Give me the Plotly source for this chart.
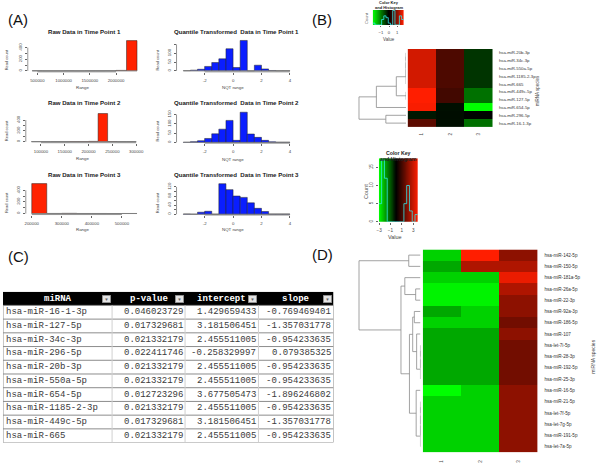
import numpy as np
import plotly.graph_objects as go

W, H = 600, 466
SANS = "Liberation Sans, Arial, Helvetica, sans-serif"
MONO = "Liberation Mono, Courier New, monospace"

# ---------------- data: panel A (histograms) ----------------
raw_titles = ["Raw Data in Time Point 1", "Raw Data in Time Point 2", "Raw Data in Time Point 3"]
nqt_titles = ["Quantile Transformed  Data in Time Point 1",
              "Quantile Transformed  Data in Time Point 2",
              "Quantile Transformed  Data in Time Point 3"]
raw1_edges = [400000, 600000, 800000, 1000000, 1200000, 1400000, 1600000, 1800000, 2000000, 2200000, 2400000]
raw1_counts = [1, 0, 0, 1, 0, 1, 1, 2, 8, 520]
raw2_edges = [80000, 100000, 120000, 140000, 160000, 180000, 200000, 220000, 240000, 260000, 280000, 300000]
raw2_counts = [1, 0, 1, 1, 2, 2, 6, 520, 3, 1, 1]
raw3_edges = [200000, 250000, 300000, 350000, 400000, 450000, 500000, 550000]
raw3_counts = [515, 2, 4, 1, 1, 0, 1]
nqt_edges = [-3.5, -3.0, -2.5, -2.0, -1.5, -1.0, -0.5, 0.0, 0.5, 1.0, 1.5, 2.0, 2.5, 3.0, 3.5, 4.0]
nqt1_counts = [1, 4, 9, 25, 47, 68, 125, 19, 172, 0, 32, 11, 2, 1, 1]
nqt2_counts = [1, 4, 9, 21, 46, 71, 118, 11, 162, 45, 27, 11, 3, 1, 1]
nqt3_counts = [1, 0, 9, 13, 0, 134, 108, 80, 74, 50, 26, 12, 1, 1, 1]
raw1_xticks = [500000, 1000000, 1500000, 2000000]
raw2_xticks = [100000, 150000, 200000, 250000, 300000]
raw3_xticks = [200000, 300000, 400000, 500000]
raw_yticks = [0, 100, 200, 300, 400]
raw_ylabels = ["0", "", "200", "", "400"]
nqt_xticks = [-2, 0, 2, 4]
nqt1_yticks = [0, 50, 100, 150]
nqt1_ylabels = ["0", "50", "100", ""]
nqt2_yticks = [0, 50, 100, 150]
nqt2_ylabels = ["0", "50", "100", "150"]
nqt3_yticks = [0, 20, 40, 60, 80, 100, 120]
nqt3_ylabels = ["0", "", "40", "", "80", "", "120"]

# ---------------- data: panel B heatmap ----------------
b_rows = ["hsa-miR-20b-3p", "hsa-miR-34c-3p", "hsa-miR-550a-5p", "hsa-miR-1185-2-3p", "hsa-miR-665",
          "hsa-miR-449c-5p", "hsa-miR-127-5p", "hsa-miR-654-5p", "hsa-miR-296-5p", "hsa-miR-16-1-3p"]
b_cols = ["1", "2", "3"]
b_t1 = [1.50, 1.50, 1.50, 1.50, 1.50, 1.82, 1.82, 1.78, -0.18, 0.66]
b_t2 = [0.55, 0.55, 0.55, 0.55, 0.55, 0.47, 0.47, -0.12, -0.10, -0.11]
b_t3 = [-0.41, -0.41, -0.41, -0.41, -0.41, -0.89, -0.89, -2.01, -0.02, -0.88]
# row dendrogram (merge a, merge b, height); ids >= n are earlier merges
b_merges = [(0, 1, 0.0), (10, 2, 0.0), (11, 3, 0.0), (12, 4, 0.0), (5, 6, 0.0),
            (13, 14, 0.58), (15, 7, 1.76), (8, 9, 1.20), (16, 17, 2.79)]
b_key_ticks = [-1, 0, 1]

# ---------------- data: panel D heatmap ----------------
d_rows = ["hsa-miR-142-5p", "hsa-miR-150-5p", "hsa-miR-181a-5p", "hsa-miR-26a-5p", "hsa-miR-22-3p",
          "hsa-miR-92a-3p", "hsa-miR-186-5p", "hsa-miR-107", "hsa-let-7i-5p", "hsa-miR-28-3p",
          "hsa-miR-192-5p", "hsa-miR-25-3p", "hsa-miR-16-5p", "hsa-miR-21-5p", "hsa-let-7f-5p",
          "hsa-let-7g-5p", "hsa-miR-191-5p", "hsa-let-7a-5p"]
d_cols = ["1", "2", "3"]
d_t1 = [-2.5, -2.0, -2.5, -2.9, -2.9, -2.0, -2.5, -2.0, -2.0, -2.0, -2.0, -2.0, -3.04, -2.5, -2.5, -2.5, -2.5, -2.5]
d_t2 = [3.79, 2.6, -2.5, -2.9, -2.9, -2.5, -2.5, -2.0, -2.0, -2.0, -2.0, -2.0, -2.5, -2.5, -2.5, -2.5, -2.5, -2.5]
d_t3 = [2.1, 2.6, 3.5, 2.6, 2.1, 2.1, 1.7, 2.1, 1.7, 1.7, 1.7, 1.7, 2.1, 2.1, 2.1, 2.1, 2.1, 2.1]
d_merges = [(0, 1, 1.22), (3, 4, 0.5), (2, 19, 1.63), (8, 9, 0.0), (21, 10, 0.0), (22, 11, 0.0),
            (7, 23, 0.4), (5, 6, 0.64), (25, 24, 0.81), (13, 14, 0.0), (27, 15, 0.0), (28, 16, 0.0),
            (29, 17, 0.0), (12, 30, 0.45), (26, 31, 1.15), (20, 32, 2.03), (18, 33, 6.4)]
d_key_ticks = [-3, -1, 1, 3]
d_key_yticks = [0, 5, 10, 15]

# ---------------- data: panel C table ----------------
tbl_header = ["miRNA", "p-value", "intercept", "slope"]
tbl_mirna = ["hsa-miR-16-1-3p", "hsa-miR-127-5p", "hsa-miR-34c-3p", "hsa-miR-296-5p", "hsa-miR-20b-3p",
             "hsa-miR-550a-5p", "hsa-miR-654-5p", "hsa-miR-1185-2-3p", "hsa-miR-449c-5p", "hsa-miR-665"]
tbl_pvalue = [0.046023729, 0.017329681, 0.021332179, 0.022411746, 0.021332179,
              0.021332179, 0.012723296, 0.021332179, 0.017329681, 0.021332179]
tbl_intercept = [1.429659433, 3.181506451, 2.455511005, -0.258329997, 2.455511005,
                 2.455511005, 3.677505473, 2.455511005, 3.181506451, 2.455511005]
tbl_slope = [-0.769469401, -1.357031778, -0.954233635, 0.079385325, -0.954233635,
             -0.954233635, -1.896246802, -0.954233635, -1.357031778, -0.954233635]

# ---------------- helpers ----------------
fig = go.Figure()
layout = dict(width=W, height=H, margin=dict(l=0, r=0, t=0, b=0), paper_bgcolor="white",
              plot_bgcolor="rgba(0,0,0,0)", showlegend=False, barmode="overlay")
annotations = []
shapes = []


def dom_x(a, b):
    return [a / W, b / W]


def dom_y(top, bot):
    return [1 - bot / H, 1 - top / H]


def xa(i):
    return "xaxis" if i == 1 else f"xaxis{i}"


def ya(i):
    return "yaxis" if i == 1 else f"yaxis{i}"


def xr(i):
    return "x" if i == 1 else f"x{i}"


def yr(i):
    return "y" if i == 1 else f"y{i}"


def ann(text, x, y, size, color="#222", bold=False, angle=0, xanchor="center", family=SANS):
    if bold:
        text = f"<b>{text}</b>"
    annotations.append(dict(text=text, x=x / W, y=1 - y / H, xref="paper", yref="paper",
                            showarrow=False, xanchor=xanchor, yanchor="middle", textangle=angle,
                            font=dict(size=size, color=color, family=family)))


TICKFONT = dict(size=4.3, color="#444", family=SANS)
AX = dict(showgrid=False, zeroline=False, showline=False,
          ticks="outside", ticklen=2, tickwidth=0.6, tickcolor="#666", tickfont=TICKFONT,
          fixedrange=True)
AXLINE = dict(color="#666", width=0.7)

RED = "#ff2200"
BLUE = "#0a1eff"

# ---------------- panel A ----------------
panelA = [
    (raw1_edges, raw1_counts, RED, raw_titles[0], "Range", (26, 140), (38, 72),
     (500000, 35.7, 79.3 / 1.5e6), (71, 23.3 / 400), raw1_xticks, raw_yticks, raw_ylabels),
    (nqt_edges, nqt1_counts, BLUE, nqt_titles[0], "NQT range", (176, 292), (38, 72),
     (0, 233.0, 14.33), (71, 17.7 / 100), nqt_xticks, nqt1_yticks, nqt1_ylabels),
    (raw2_edges, raw2_counts, RED, raw_titles[1], "Range", (24, 140), (110, 143),
     (100000, 39.3, 24 / 50000), (142, 21.7 / 400), raw2_xticks, raw_yticks, raw_ylabels),
    (nqt_edges, nqt2_counts, BLUE, nqt_titles[1], "NQT range", (176, 292), (110, 143.5),
     (0, 233.0, 14.33), (142.7, 28 / 150), nqt_xticks, nqt2_yticks, nqt2_ylabels),
    (raw3_edges, raw3_counts, RED, raw_titles[2], "Range", (24, 140), (182, 215),
     (200000, 30.0, 30.3 / 100000), (214, 23.3 / 400), raw3_xticks, raw_yticks, raw_ylabels),
    (nqt_edges, nqt3_counts, BLUE, nqt_titles[2], "NQT range", (176, 292), (182, 215.5),
     (0, 233.0, 14.33), (214.7, 27.4 / 120), nqt_xticks, nqt3_yticks, nqt3_ylabels),
]
title_y = [31.5, 31.5, 103, 103, 174.5, 174.5]
xlab_y = [87.7, 87.7, 158.7, 159.5, 230, 230]
ylab_y = [60, 60, 131, 131, 203, 203]

for k, (edges, counts, color, title, xlab, xpx, ypx, xm, ym, xt, yt, yl) in enumerate(panelA):
    i = k + 1
    e = np.array(edges, dtype=float)
    centers = (e[:-1] + e[1:]) / 2
    widths = e[1:] - e[:-1]
    fig.add_trace(go.Scatter(x=[e[0], e[-1]], y=[0, 0], mode="lines",
                             line=dict(color="#8a8a8a", width=0.8), hoverinfo="skip",
                             xaxis=xr(i), yaxis=yr(i)))
    fig.add_trace(go.Bar(x=centers, y=counts, width=widths,
                         marker=dict(color=color, line=dict(color="#222", width=0.5)),
                         xaxis=xr(i), yaxis=yr(i)))
    v0, p0, ppu = xm
    xrange_ = [v0 + (xpx[0] - p0) / ppu, v0 + (xpx[1] - p0) / ppu]
    pz, yppu = ym
    yrange_ = [(pz - ypx[1]) / yppu, (pz - ypx[0]) / yppu]
    layout[xa(i)] = dict(AX, domain=dom_x(*xpx), range=xrange_, anchor=yr(i),
                         tickvals=xt, ticktext=[str(v) for v in xt], ticklabelstandoff=2)
    layout[ya(i)] = dict(AX, domain=dom_y(*ypx), range=yrange_, anchor=xr(i),
                         tickvals=yt, ticktext=yl, tickangle=-90, ticklabelstandoff=1)
    # R-style axis lines running from the first to the last tick
    shapes.append(dict(type="line", xref=xr(i), yref=f"{yr(i)} domain", x0=xt[0], x1=xt[-1],
                       y0=0, y1=0, line=AXLINE))
    shapes.append(dict(type="line", xref=f"{xr(i)} domain", yref=yr(i), x0=0, x1=0,
                       y0=yt[0], y1=yt[-1], line=AXLINE))
    cx = 83 if k % 2 == 0 else 236
    ann(title, cx, title_y[k], 6.1, color="#1a1a1a", bold=True)
    ann(xlab, 81 if k % 2 == 0 else 233, xlab_y[k], 4.4, color="#444")
    ann("Read count", 4.5 if k % 2 == 0 else 157, ylab_y[k], 4.0, color="#444", angle=-90)


# ---------------- heatmap / dendrogram helpers ----------------
def rg_scale(zmin, zmax):
    m = -zmin / (zmax - zmin)
    return [[0, "#00ff00"], [m, "#000000"], [1, "#ff1e00"]]


def dendro_xy(merges, n):
    pos = {j: float(j) for j in range(n)}
    hgt = {j: 0.0 for j in range(n)}
    xs, ys = [], []
    for k, (a, b, h) in enumerate(merges):
        node = n + k
        xs += [hgt[a], h, h, hgt[b], None]
        ys += [pos[a], pos[a], pos[b], pos[b], None]
        pos[node] = (pos[a] + pos[b]) / 2
        hgt[node] = h
    return xs, ys


def heat_panel(ih, idn, ik, rows, cols, cols_vals, merges, hm_x, hm_y, leaf_px, root_px,
               row_font, col_standoff, row_standoff):
    n = len(rows)
    z = [[cv[r] for cv in cols_vals] for r in range(n)]
    allv = [v for cv in cols_vals for v in cv]
    zmin, zmax = min(allv), max(allv)
    cs = rg_scale(zmin, zmax)
    fig.add_trace(go.Heatmap(z=z, x=list(range(len(cols))), y=list(range(n)), colorscale=cs,
                             zmin=zmin, zmax=zmax, showscale=False, hoverinfo="skip",
                             xaxis=xr(ih), yaxis=yr(ih)))
    layout[xa(ih)] = dict(domain=dom_x(*hm_x), range=[-0.5, len(cols) - 0.5], anchor=yr(ih),
                          showgrid=False, zeroline=False, showline=False, ticks="",
                          tickvals=list(range(len(cols))), ticktext=cols, tickangle=-90,
                          tickfont=dict(size=4.5, color="#444", family=SANS),
                          ticklabelstandoff=col_standoff, fixedrange=True)
    layout[ya(ih)] = dict(domain=dom_y(*hm_y), range=[n - 0.5, -0.5], anchor=xr(ih), side="right",
                          showgrid=False, zeroline=False, showline=False, ticks="",
                          tickvals=list(range(n)), ticktext=rows,
                          tickfont=dict(size=row_font, color="#333", family=SANS),
                          ticklabelstandoff=row_standoff, fixedrange=True)
    # dendrogram
    xs, ys = dendro_xy(merges, n)
    hmax = max(m[2] for m in merges)
    scale = (leaf_px - root_px) / hmax
    top = hmax * 1.02
    fig.add_trace(go.Scatter(x=xs, y=ys, mode="lines", line=dict(color="#8c8c8c", width=0.8),
                             hoverinfo="skip", xaxis=xr(idn), yaxis=yr(idn)))
    layout[xa(idn)] = dict(domain=dom_x(leaf_px - top * scale, leaf_px), range=[top, 0],
                           visible=False, anchor=yr(idn), fixedrange=True)
    layout[ya(idn)] = dict(domain=dom_y(*hm_y), range=[n - 0.5, -0.5], visible=False,
                           anchor=xr(idn), fixedrange=True)
    # colour key with histogram
    breaks = np.linspace(zmin, zmax, 15)
    counts, _ = np.histogram(allv, bins=breaks)
    ytop = counts.max() * 1.03
    gx = np.linspace(zmin, zmax, 121)
    gc = (gx[:-1] + gx[1:]) / 2
    fig.add_trace(go.Heatmap(z=[gc.tolist()], x=gx.tolist(), y=[0, ytop], colorscale=cs,
                             zmin=zmin, zmax=zmax, showscale=False, hoverinfo="skip",
                             xaxis=xr(ik), yaxis=yr(ik)))
    fig.add_trace(go.Scatter(x=breaks.tolist(), y=counts.tolist() + [int(counts[-1])], mode="lines",
                             line=dict(color="#30e8e8", width=0.8, shape="hv"), hoverinfo="skip",
                             xaxis=xr(ik), yaxis=yr(ik)))
    return zmin, zmax, ytop


# ---------------- panel B ----------------
bzmin, bzmax, bytop = heat_panel(7, 8, 9, b_rows, b_cols, [b_t1, b_t2, b_t3], b_merges,
                                 hm_x=(409, 495), hm_y=(49, 127.3), leaf_px=407.5, root_px=360,
                                 row_font=4.3, col_standoff=4, row_standoff=5)
layout[xa(9)] = dict(domain=dom_x(390.3 + bzmin * 8.2, 390.3 + bzmax * 8.2), range=[bzmin, bzmax],
                     anchor=yr(9), showgrid=False, zeroline=False, showline=False, ticks="outside",
                     ticklen=1.5, tickwidth=0.5, tickcolor="#666", tickvals=b_key_ticks,
                     tickfont=dict(size=4.2, color="#444", family=SANS), ticklabelstandoff=2,
                     fixedrange=True)
layout[ya(9)] = dict(domain=dom_y(10, 25), range=[0, bytop], anchor=xr(9), showgrid=False,
                     zeroline=False, showline=False, showticklabels=False, ticks="", fixedrange=True)
ann("Color Key", 390, 3, 4, color="#222", bold=True)
ann("and Histogram", 390, 7.8, 4, color="#222", bold=True)
ann("Value", 390, 39.5, 4.5, color="#444")
ann("Count", 368, 18, 4, color="#555", angle=-90)
ann("miRNA species", 540, 91, 4.5, color="#444", angle=-90)

# ---------------- panel D ----------------
dzmin, dzmax, dytop = heat_panel(10, 11, 12, d_rows, d_cols, [d_t1, d_t2, d_t3], d_merges,
                                 hm_x=(424.3, 540), hm_y=(250, 453.3), leaf_px=422, root_px=360,
                                 row_font=4.6, col_standoff=6, row_standoff=6)
layout[xa(12)] = dict(domain=dom_x(397.5 + dzmin * 5.75, 397.5 + dzmax * 5.75), range=[dzmin, dzmax],
                      anchor=yr(12), showgrid=False, zeroline=False, showline=False, ticks="outside",
                      ticklen=2, tickwidth=0.5, tickcolor="#666", tickvals=d_key_ticks,
                      tickfont=dict(size=4.6, color="#444", family=SANS), ticklabelstandoff=2,
                      fixedrange=True)
layout[ya(12)] = dict(domain=dom_y(222.3 - dytop * 3.64, 222.3), range=[0, dytop], anchor=xr(12),
                      showgrid=False, zeroline=False, showline=False, ticks="outside", ticklen=2,
                      tickwidth=0.5, tickcolor="#666", tickvals=d_key_yticks, tickangle=-90,
                      tickfont=dict(size=4.6, color="#444", family=SANS), ticklabelstandoff=1,
                      fixedrange=True)
ann("Color Key", 400, 153.3, 5.2, color="#222", bold=True)
ann("and Histogram", 400, 159.3, 5.2, color="#222", bold=True)
ann("Value", 396, 237.3, 5.5, color="#444")
ann("Count", 367.7, 191.7, 5.5, color="#555", angle=-90)
ann("miRNA species", 596.5, 358, 5, color="#444", angle=-90)

# ---------------- panel C (table drawn on its own axes) ----------------
tbl_colweights = [110, 73.6, 74, 75.7]
tbl_align = ["left", "right", "right", "right"]
TI = 13
ROW_PX = 13.75
col_edges = np.concatenate([[0.0], np.cumsum(tbl_colweights)])
total_w = float(col_edges[-1])
tbl_cols = [tbl_mirna,
            [f"{v:.9f}" for v in tbl_pvalue],
            [f"{v:.9f}" for v in tbl_intercept],
            [f"{v:.9f}" for v in tbl_slope]]
nrow = len(tbl_mirna) + 1
layout[xa(TI)] = dict(domain=dom_x(1, 1 + total_w), range=[0, total_w], visible=False,
                      anchor=yr(TI), fixedrange=True)
layout[ya(TI)] = dict(domain=dom_y(292.3, 292.3 + nrow * ROW_PX), range=[nrow, 0], visible=False,
                      anchor=xr(TI), fixedrange=True)
fig.add_trace(go.Scatter(x=[0, total_w], y=[0, nrow], mode="markers", marker=dict(opacity=0),
                         hoverinfo="skip", xaxis=xr(TI), yaxis=yr(TI)))
shapes.append(dict(type="rect", xref=xr(TI), yref=yr(TI), x0=0, x1=total_w, y0=0, y1=1,
                   fillcolor="black", line=dict(width=0), layer="below"))
for r in range(1, nrow + 1):
    shapes.append(dict(type="line", xref=xr(TI), yref=yr(TI), x0=0, x1=total_w, y0=r, y1=r,
                       line=dict(color="#8c8c8c", width=1)))
for ci, cx in enumerate(col_edges):
    edge = ci == 0 or ci == len(col_edges) - 1
    shapes.append(dict(type="line", xref=xr(TI), yref=yr(TI), x0=cx, x1=cx, y0=1, y1=nrow,
                       line=dict(color="#8c8c8c" if edge else "#d0d0d0", width=1)))
for c, head in enumerate(tbl_header):
    annotations.append(dict(text=f"<b>{head}</b>", x=(col_edges[c] + col_edges[c + 1]) / 2, y=0.5,
                            xref=xr(TI), yref=yr(TI), showarrow=False, xanchor="center",
                            yanchor="middle", borderpad=0,
                            font=dict(family=MONO, size=9, color="white")))
    for r, val in enumerate(tbl_cols[c]):
        if tbl_align[c] == "left":
            x, xanc = col_edges[c] + 2, "left"
        else:
            x, xanc = col_edges[c + 1] - 1.5, "right"
        annotations.append(dict(text=val, x=x, y=r + 1.5, xref=xr(TI), yref=yr(TI),
                                showarrow=False, xanchor=xanc, yanchor="middle", borderpad=0,
                                font=dict(family=MONO, size=9, color="#3a3a3a")))
    # filter drop-down button in the header
    annotations.append(dict(text="▼", x=col_edges[c + 1] - 6, y=0.5, xref=xr(TI), yref=yr(TI),
                            showarrow=False, xanchor="center", yanchor="middle",
                            width=8, height=7, borderpad=0, bgcolor="#e4e4e4",
                            bordercolor="#888", borderwidth=0.6,
                            font=dict(size=4.5, color="#666", family=SANS)))

# ---------------- panel labels ----------------
ann("(A)", 16.5, 20, 15, color="#111")
ann("(B)", 323, 20, 15, color="#111")
ann("(C)", 17, 257.5, 15, color="#111")
ann("(D)", 323, 255, 15, color="#111")

layout["annotations"] = annotations
layout["shapes"] = shapes
fig.update_layout(**layout)
fig.write_html("out.html", config={"displayModeBar": False},
               post_script="document.body.style.margin='0px';")
